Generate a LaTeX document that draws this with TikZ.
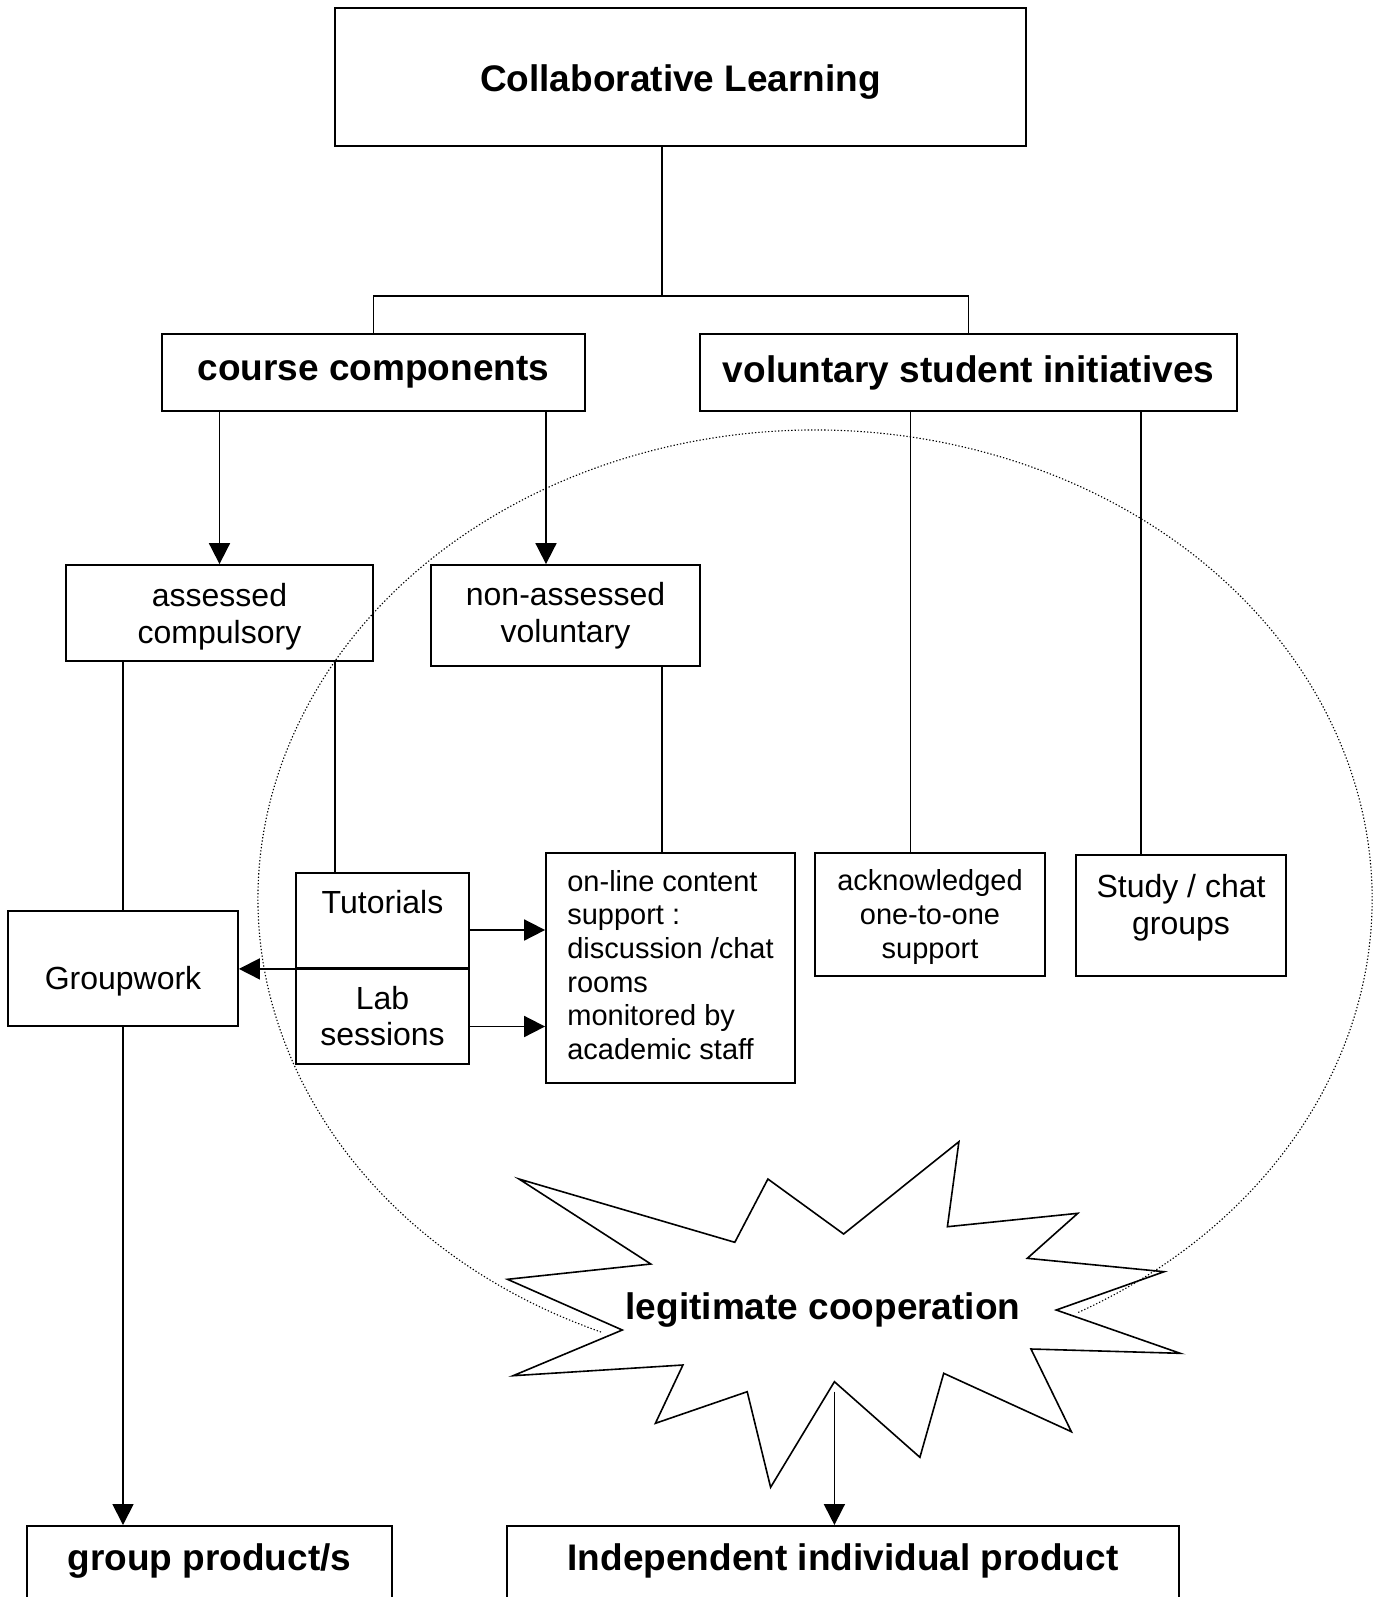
\documentclass[tikz,border=0pt]{standalone}
\usepackage{fontspec}
\setmainfont{Liberation Sans}
\usetikzlibrary{arrows.meta}
\newcommand{\headfont}{\fontsize{37}{42}\selectfont\bfseries}
\newcommand{\boxfont}{\fontsize{32}{36.8}\selectfont}
\newcommand{\notefont}{\fontsize{29}{33.6}\selectfont}
\tikzset{
  box/.style={draw, line width=1.8pt, inner sep=0pt, align=center},
  link/.style={line width=1.8pt},
  arr/.style={line width=1.8pt, -{Triangle[length=21pt,width=21pt]}},
  burst/.style={line width=1.6pt, line join=miter},
  halo/.style={line width=1.1pt, dash pattern=on 1.3pt off 2pt}
}
\begin{document}
\begin{tikzpicture}[x=1pt,y=-1pt]
\useasboundingbox (0,0) rectangle (1377,1597);
\node[box, minimum width=691, minimum height=138, text height=37pt, text depth=8pt, font=\headfont] (cl) at (680.5,77){Collaborative Learning};
\node[box, minimum width=423, minimum height=77, font=\headfont] (cc) at (373.5,372.5){course components};
\node[box, minimum width=537, minimum height=77, font=\headfont] (vsi) at (968.5,372.5){voluntary student initiatives};
\node[box, minimum width=307, minimum height=96] (ac) at (219.5,613){};
\node[font=\boxfont, align=center] (actext) at (219.5,616.5){assessed\\compulsory};
\node[box, minimum width=269, minimum height=101, font=\boxfont] (na) at (565.5,615.5){non-assessed\\voluntary};
\node[box, minimum width=230, minimum height=123] (ack) at (930,914.5){};
\node[font=\notefont, align=center] (acktext) at (930,917){acknowledged\\one-to-one\\support};
\node[box, minimum width=210, minimum height=121] (study) at (1181,915.5){};
\node[font=\boxfont, align=center] (studytext) at (1181,908){Study / chat\\groups};
\node[box, minimum width=249, minimum height=230] (online) at (670.5,968){};
\node[font=\notefont, align=left] (onlinetext) at (670.5,965){on-line content\\support :\\discussion /chat\\rooms\\monitored by\\academic staff};
\node[box, minimum width=230, minimum height=115, text height=48pt, text depth=7pt, font=\boxfont] (gw) at (123,968.5){Groupwork};
\node[box, minimum width=173, minimum height=95] (tut) at (382.5,920.5){};
\node[anchor=base, inner sep=0pt, font=\boxfont] (tuttext) at (382.5,913){Tutorials};
\node[box, minimum width=173, minimum height=96, font=\boxfont] (lab) at (382.5,1016){Lab\\sessions};
\node[box, anchor=north, minimum width=365, text height=45pt, text depth=60pt, font=\headfont] (gp) at (209.5,1525){group product/s};
\node[box, anchor=north, minimum width=672, text height=45pt, text depth=60pt, font=\headfont] (ind) at (843,1525){Independent individual product};
\draw[halo] (601,1332) arc[start angle=112.6, end angle=422, x radius=557, y radius=469];
\draw[burst] (958.9,1141.7) -- (947.4,1226.7) -- (1077.8,1213.3) -- (1027.3,1258.3) -- (1164.1,1271.7) -- (1056.2,1310) -- (1180.2,1353.3) -- (1031,1349) -- (1071.4,1431.7) -- (943.7,1373.3) -- (919.9,1457.3) -- (834.4,1381.7) -- (770.6,1487.3) -- (747.2,1391.7) -- (655.4,1423.3) -- (682.9,1365) -- (513.1,1375.7) -- (622.3,1330) -- (507.5,1279.3) -- (650.8,1264) -- (519,1179) -- (734.8,1242.3) -- (767.9,1179) -- (843.6,1234) -- cycle;
\node[font=\headfont] (lc) at (823,1310){legitimate cooperation};
\coordinate (split) at (662,296);
\coordinate (burstfoot) at (834.4,1391.7);
\draw[link] (cl.south -| split) -- (split);
\draw[link] (cc.north) |- (split) -| (vsi.north);
\draw[arr] (cc.south -| ac.north) -- (ac.north);
\draw[arr] ([xshift=-19.5pt]na.north |- cc.south) -- ([xshift=-19.5pt]na.north);
\draw[link] ([xshift=-19.5pt]ack.north |- vsi.south) -- ([xshift=-19.5pt]ack.north);
\draw[link] ([xshift=-40pt]study.north |- vsi.south) -- ([xshift=-40pt]study.north);
\draw[link] (gw.north |- ac.south) -- (gw.north);
\draw[link] ([xshift=-47.5pt]tut.north |- ac.south) -- ([xshift=-47.5pt]tut.north);
\draw[link] ([xshift=-8.5pt]online.north |- na.south) -- ([xshift=-8.5pt]online.north);
\draw[arr] ([yshift=-9.5pt]tut.east) -- ([yshift=-9.5pt]tut.east -| online.west);
\draw[arr] ([yshift=-10.5pt]lab.east) -- ([yshift=-10.5pt]lab.east -| online.west);
\draw[arr] (tut.south east) -- (tut.south east -| gw.east);
\draw[arr] (gw.south) -- (gw.south |- gp.north);
\draw[arr] (burstfoot) -- (burstfoot |- ind.north);
\end{tikzpicture}
\end{document}
